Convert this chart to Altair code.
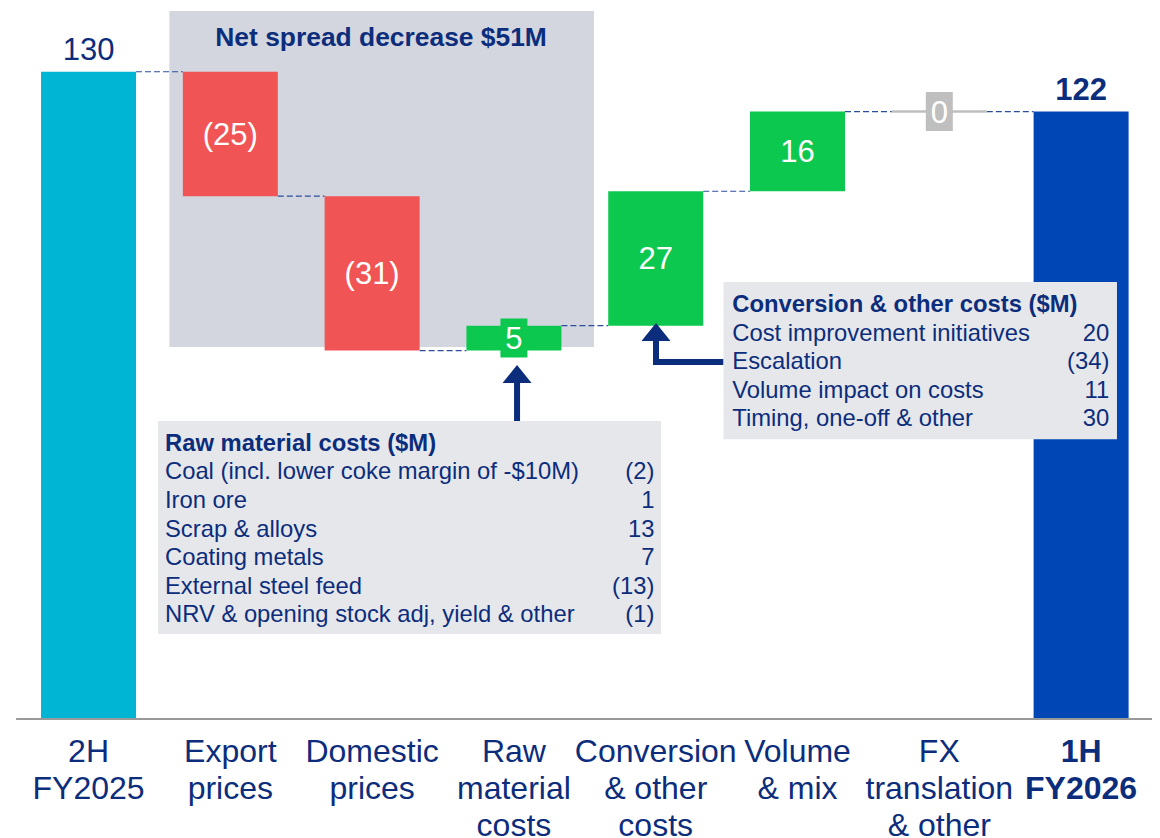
import altair as alt
import pandas as pd

# ---------------- data ----------------
categories = ["2H\nFY2025", "Export\nprices", "Domestic\nprices", "Raw\nmaterial\ncosts",
              "Conversion\n& other\ncosts", "Volume\n& mix", "FX\ntranslation\n& other", "1H\nFY2026"]
values = [130, -25, -31, 5, 27, 16, 0, 122]
is_total = [True, False, False, False, False, False, False, True]

spread_title = "Net spread decrease $51M"

raw_title = "Raw material costs ($M)"
raw_items = ["Coal (incl. lower coke margin of -$10M)", "Iron ore", "Scrap & alloys",
             "Coating metals", "External steel feed", "NRV & opening stock adj, yield & other"]
raw_values = [-2, 1, 13, 7, -13, -1]

conv_title = "Conversion & other costs ($M)"
conv_items = ["Cost improvement initiatives", "Escalation", "Volume impact on costs",
              "Timing, one-off & other"]
conv_values = [20, -34, 11, 30]

# ---------------- style ----------------
FONT = "Liberation Sans"
NAVY = "#0C2D7C"
CYAN = "#00B4D3"
RED = "#F05454"
GREEN = "#0CC84F"
GRAY = "#BFBFBF"
BLUE = "#0046B4"
SHADE = "#D3D6DE"
BOXFILL = "#E6E7EB"
AXISC = "#999999"
DASHC = "#2D4C9C"

W, H = 1144, 830
X_DOMAIN = [-0.568, 7.5]
Y_DOMAIN = [-23.9, 142.8]
BAR_HALF = 0.335

xs = alt.Scale(domain=X_DOMAIN, nice=False, zero=False)
ys = alt.Scale(domain=Y_DOMAIN, nice=False, zero=False)


def X(f):
    return alt.X(f, type="quantitative", scale=xs, axis=None)


def Y(f):
    return alt.Y(f, type="quantitative", scale=ys, axis=None)


def fmt(v):
    return f"({abs(v)})" if v < 0 else str(v)


# ---------------- waterfall table ----------------
rows = []
run = 0
n = len(categories)
for i, (cat, v, tot) in enumerate(zip(categories, values, is_total)):
    if tot:
        lo, hi = 0, v
        run = v
    else:
        lo, hi = run, run + v
        run = hi
    if i == 0:
        col = CYAN
    elif tot:
        col = BLUE
    elif v < 0:
        col = RED
    elif v > 0:
        col = GREEN
    else:
        col = GRAY
    rows.append(dict(i=i, cat=cat, v=v, total=tot, y0=lo, y1=hi, ymid=(lo + hi) / 2,
                     top=max(lo, hi), x0=i - BAR_HALF, x1=i + BAR_HALF, color=col,
                     label=fmt(v), small=(not tot and abs(v) < 8), bold=(i == n - 1),
                     zero=0))
bars = pd.DataFrame(rows)

conn = pd.DataFrame([dict(x0=i + BAR_HALF, x1=i + 1 - BAR_HALF, y=bars.y1[i]) for i in range(n - 1)])

# ---------------- annotation geometry (data units) ----------------
shade_df = pd.DataFrame([dict(x0=0.57, x1=3.565, y0=74.7, y1=142.2)])
shade_title_df = pd.DataFrame([dict(x=2.063, y=135.2, t=spread_title)])
axis_df = pd.DataFrame([dict(x0=-0.511, x1=7.5, y=0)])

boxes_df = pd.DataFrame([
    dict(x0=0.490, x1=4.037, y0=17.07, y1=59.85),
    dict(x0=4.478, x1=7.253, y0=56.18, y1=87.77),
])

box_text = pd.DataFrame([
    dict(xl=0.539, xr=3.991, yt=53.89, yi=48.14, title=raw_title,
         items="\n".join(raw_items), vals="\n".join(fmt(v) for v in raw_values)),
    dict(xl=4.540, xr=7.199, yt=81.8, yi=75.98, title=conv_title,
         items="\n".join(conv_items), vals="\n".join(fmt(v) for v in conv_values)),
])

arrow_lines = pd.DataFrame([
    dict(a="raw", k=0, x=3.022, y=59.85), dict(a="raw", k=1, x=3.022, y=67.6),
    dict(a="conv", k=0, x=4.478, y=71.7), dict(a="conv", k=1, x=4.002, y=71.7),
    dict(a="conv", k=2, x=4.002, y=76.1),
])
arrow_heads = pd.DataFrame([dict(x=3.022, y=69.29), dict(x=4.002, y=77.73)])

# ---------------- layers ----------------
shade = alt.Chart(shade_df).mark_rect(color=SHADE).encode(
    x=X("x0"), x2=alt.X2("x1"), y=Y("y0"), y2=alt.Y2("y1"))

shade_title = alt.Chart(shade_title_df).mark_text(
    font=FONT, fontSize=26.4, fontWeight="bold", color=NAVY, align="center",
    baseline="alphabetic").encode(x=X("x"), y=Y("y"), text="t:N")

connectors = alt.Chart(conn).mark_rule(color=DASHC, strokeWidth=1.2, strokeDash=[6, 3]).encode(
    x=X("x0"), x2=alt.X2("x1"), y=Y("y"))

bar_layer = alt.Chart(bars).mark_rect().encode(
    x=X("x0"), x2=alt.X2("x1"), y=Y("y0"), y2=alt.Y2("y1"),
    color=alt.Color("color:N", scale=None))

zero_bars = alt.Chart(bars).transform_filter("datum.v == 0 && !datum.total").mark_rule(
    color=GRAY, strokeWidth=2.5).encode(x=X("x0"), x2=alt.X2("x1"), y=Y("y1"))

label_boxes = alt.Chart(bars).transform_filter("datum.small").mark_point(
    shape="M-0.692,-1H0.692V1H-0.692Z", size=1521, filled=True, opacity=1, strokeWidth=0).encode(
    x=X("i"), y=Y("ymid"), color=alt.Color("color:N", scale=None))

inside_labels = alt.Chart(bars).transform_filter("!datum.total").mark_text(
    font=FONT, fontSize=31, color="white", align="center", baseline="middle", dy=2).encode(
    x=X("i"), y=Y("ymid"), text="label:N")

total_labels = alt.Chart(bars).transform_filter("datum.total && !datum.bold").mark_text(
    font=FONT, fontSize=31, color=NAVY, align="center", baseline="alphabetic", dy=-12).encode(
    x=X("i"), y=Y("top"), text="label:N")

total_labels_b = alt.Chart(bars).transform_filter("datum.total && datum.bold").mark_text(
    font=FONT, fontSize=31, fontWeight="bold", color=NAVY, align="center",
    baseline="alphabetic", dy=-12).encode(x=X("i"), y=Y("top"), text="label:N")

axis_rule = alt.Chart(axis_df).mark_rule(color=AXISC, strokeWidth=2).encode(
    x=X("x0"), x2=alt.X2("x1"), y=Y("y"))

cat_labels = alt.Chart(bars).transform_filter("!datum.bold").mark_text(
    font=FONT, fontSize=32, color=NAVY, align="center", baseline="alphabetic",
    lineBreak="\n", lineHeight=37.3, dy=42.7).encode(x=X("i"), y=Y("zero"), text="cat:N")

cat_labels_b = alt.Chart(bars).transform_filter("datum.bold").mark_text(
    font=FONT, fontSize=32, fontWeight="bold", color=NAVY, align="center",
    baseline="alphabetic", lineBreak="\n", lineHeight=37.3, dy=42.7).encode(
    x=X("i"), y=Y("zero"), text="cat:N")

arrow_line_layer = alt.Chart(arrow_lines).mark_line(
    color=NAVY, strokeWidth=6, strokeCap="butt", strokeJoin="miter").encode(
    x=X("x"), y=Y("y"), detail="a:N", order="k:Q")

arrow_head_layer = alt.Chart(arrow_heads).mark_point(
    shape="M0,-0.62L1,0.62L-1,0.62Z", size=841, filled=True, opacity=1, strokeWidth=0,
    color=NAVY).encode(x=X("x"), y=Y("y"))

box_layer = alt.Chart(boxes_df).mark_rect(color=BOXFILL).encode(
    x=X("x0"), x2=alt.X2("x1"), y=Y("y0"), y2=alt.Y2("y1"))

box_titles = alt.Chart(box_text).mark_text(
    font=FONT, fontSize=23.8, fontWeight="bold", color=NAVY, align="left",
    baseline="alphabetic").encode(x=X("xl"), y=Y("yt"), text="title:N")

box_items = alt.Chart(box_text).mark_text(
    font=FONT, fontSize=23.8, color=NAVY, align="left", baseline="alphabetic",
    lineBreak="\n", lineHeight=28.6).encode(x=X("xl"), y=Y("yi"), text="items:N")

box_vals = alt.Chart(box_text).mark_text(
    font=FONT, fontSize=23.8, color=NAVY, align="right", baseline="alphabetic",
    lineBreak="\n", lineHeight=28.6).encode(x=X("xr"), y=Y("yi"), text="vals:N")

chart = alt.layer(
    shade, shade_title, connectors, bar_layer, zero_bars, label_boxes, inside_labels,
    total_labels, total_labels_b, axis_rule, cat_labels, cat_labels_b,
    arrow_line_layer, arrow_head_layer, box_layer, box_titles, box_items, box_vals,
).properties(
    width=W, height=H, padding=0,
    autosize=alt.AutoSizeParams(type="none"),
    background="white",
).configure_view(stroke=None)

chart.save("out.html", embed_options={"renderer": "svg", "actions": False})
